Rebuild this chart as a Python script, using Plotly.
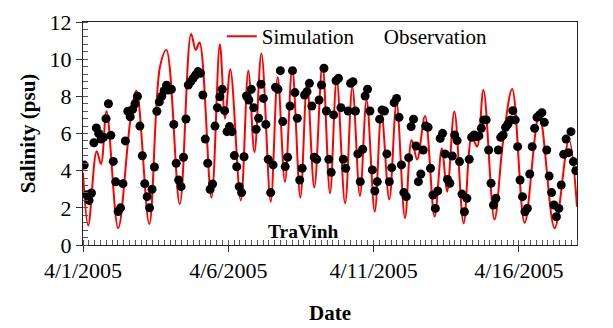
import pandas as pd
import plotly.graph_objects as go

# Simulation: turning points of the simulated curve (days since 4/1/2005 00:00, psu)
sim_day = [0.00, 0.18, 0.47, 0.62, 0.81, 1.21, 1.63, 1.84, 2.28, 2.65, 2.87, 3.33,
           3.72, 3.88, 4.01, 4.42, 4.71, 4.89, 5.07, 5.43, 5.69, 5.90, 6.14, 6.46,
           6.70, 6.95, 7.20, 7.48, 7.71, 7.96, 8.24, 8.50, 8.73, 9.02, 9.27, 9.53,
           9.76, 10.04, 10.27, 10.54, 10.79, 11.08, 11.31, 11.50, 11.77, 12.10, 12.35,
           12.53, 12.78, 13.10, 13.38, 13.56, 13.78, 14.16, 14.45, 14.77, 15.20, 15.70,
           16.23, 16.72, 17.00]
sim_val = [3.9, 1.05, 5.05, 4.36, 7.2, 0.9, 6.7, 8.3, 1.13, 9.6, 10.5, 2.2,
           11.35, 10.5, 10.9, 2.55, 10.8, 6.8, 9.45, 2.4, 9.38, 5.0, 10.3, 2.33,
           9.03, 3.4, 9.5, 2.55, 8.7, 3.1, 9.7, 2.78, 8.9, 2.24, 8.5, 2.65,
           7.8, 1.8, 7.1, 2.45, 7.65, 1.45, 5.65, 4.6, 6.94, 1.53, 5.2,
           2.87, 7.18, 1.17, 5.83, 5.3, 8.34, 1.37, 5.5, 8.4, 1.2, 7.0,
           0.9, 5.67, 2.06]

# Observation: 2-hourly samples starting 4/1/2005 01:00 (psu)
obs_val = [4.3, 2.7, 2.4, 2.8, 5.5, 6.3, 6.0, 5.7, 5.8, 6.8, 7.6, 5.9, 4.5, 3.4, 1.8, 2.0,
           3.3, 5.6, 7.2, 6.9, 7.3, 7.6, 8.0, 6.4, 4.8, 3.3, 2.6, 2.0, 3.0, 4.2, 7.2, 7.7,
           8.0, 8.3, 8.6,
           8.34, 8.38, 6.49, 4.40, 3.50, 3.14, 4.72, 6.78, 8.61, 8.79, 8.97, 9.15, 9.33,
           9.24, 8.07, 5.70, 4.40, 3.00, 3.28, 6.40, 7.39, 7.98, 8.38, 7.23, 6.10, 6.37,
           6.10, 4.81, 4.21, 3.14, 2.82, 4.75, 8.02, 7.80, 8.38,
           7.39, 6.23, 6.82, 8.65, 7.89, 6.49, 4.61, 2.82, 4.31, 8.49, 8.38, 9.38, 6.64,
           4.22, 4.72, 7.48, 9.38, 8.20, 6.82, 3.50, 4.13, 8.07, 8.25, 8.70, 7.48, 4.72,
           4.61, 7.80, 8.61, 9.51, 7.21, 4.61, 3.91, 7.0,
           8.84, 8.97, 7.39, 4.61, 4.13, 7.21, 8.70, 8.79, 7.21, 4.90, 3.41, 5.15, 8.02,
           8.38, 7.21, 4.04, 2.91, 3.41, 6.77, 7.27, 7.21, 4.90, 3.41, 4.16, 7.66, 7.89,
           6.87, 4.31, 2.82, 2.60, 4.70, 6.37, 6.77, 5.33, 3.41,
           3.82, 5.11, 6.40, 6.33, 4.13, 2.69, 1.97, 2.91, 5.74, 6.01, 4.90, 3.53, 3.32,
           4.79, 5.92, 5.62, 4.49, 2.74, 1.79, 2.51, 4.61, 5.80, 5.92, 5.83, 5.87, 6.28,
           6.73, 6.73, 5.11, 3.32, 2.15, 2.51, 5.11, 5.80, 5.92, 6.33,
           6.51, 6.73, 7.23, 6.73, 5.29, 3.50, 2.60, 1.79, 1.97, 3.82, 5.29, 6.28, 6.87,
           7.0, 7.12, 6.60, 5.11, 3.71, 2.82, 2.15, 1.52, 1.97, 3.23, 4.88, 5.70, 4.97,
           6.10, 4.49, 4.0]

x_ticks = ["2005-04-01", "2005-04-06", "2005-04-11", "2005-04-16"]
x_tick_text = ["4/1/2005", "4/6/2005", "4/11/2005", "4/16/2005"]

base = pd.Timestamp("2005-04-01")
sim_t = base + pd.to_timedelta(sim_day, unit="D")
obs_t = pd.date_range("2005-04-01 01:00", periods=len(obs_val), freq="2h")

FONT = "Liberation Serif, Times New Roman, serif"

fig = go.Figure()
fig.add_trace(go.Scatter(x=sim_t, y=sim_val, mode="lines", name="Simulation",
                         legend="legend",
                         line=dict(color="#ff0000", width=2, shape="spline", smoothing=1.0)))
fig.add_trace(go.Scatter(x=obs_t, y=obs_val, mode="markers", name="Observation",
                         showlegend=False,
                         marker=dict(color="black", size=9, line=dict(width=0))))
# legend entry for observations (the reference legend shows no symbol)
fig.add_trace(go.Scatter(x=[None], y=[None], mode="markers", name="Observation",
                         legend="legend2",
                         marker=dict(color="rgba(0,0,0,0)", size=8)))

leg_common = dict(orientation="h", yanchor="top", xanchor="left",
                  bgcolor="rgba(0,0,0,0)", font=dict(size=21, family=FONT),
                  itemwidth=30, tracegroupgap=0)

fig.update_layout(
    width=613, height=328,
    margin=dict(l=83, r=36, t=22, b=83, autoexpand=False),
    paper_bgcolor="white", plot_bgcolor="white",
    font=dict(family=FONT, color="black", size=21),
    showlegend=True,
    legend=dict(x=0.281, y=1.027, **leg_common),
    legend2=dict(x=0.528, y=1.027, **leg_common),
    annotations=[dict(text="<b>TraVinh</b>", x=0.447, y=0.06, xref="paper", yref="paper",
                      xanchor="center", yanchor="middle",
                      showarrow=False, font=dict(size=19.5, family=FONT))],
)

fig.update_xaxes(
    type="date", range=["2005-04-01", "2005-04-18"],
    tickvals=x_ticks, ticktext=x_tick_text,
    ticks="outside", ticklen=6, tickcolor="#333", tickwidth=1,
    showline=True, linecolor="#222", linewidth=1, mirror=True,
    showgrid=False, zeroline=False,
    minor=dict(dtick=0.2 * 86400000, tick0="2005-04-01", ticks="inside", ticklen=5,
               tickcolor="#555", showgrid=False),
    tickfont=dict(size=22, family=FONT),
    title=dict(text="<b>Date</b>", font=dict(size=21, family=FONT), standoff=22),
)
fig.update_yaxes(
    range=[0, 12], dtick=2, tick0=0,
    ticks="outside", ticklen=6, tickcolor="#333", tickwidth=1,
    showline=True, linecolor="#222", linewidth=1, mirror=True,
    showgrid=False, zeroline=False,
    minor=dict(dtick=0.4, ticks="inside", ticklen=5, tickcolor="#555", showgrid=False),
    tickfont=dict(size=22, family=FONT),
    title=dict(text="<b>Salinity (psu)</b>", font=dict(size=21, family=FONT), standoff=8),
)

fig.write_html("out.html")
